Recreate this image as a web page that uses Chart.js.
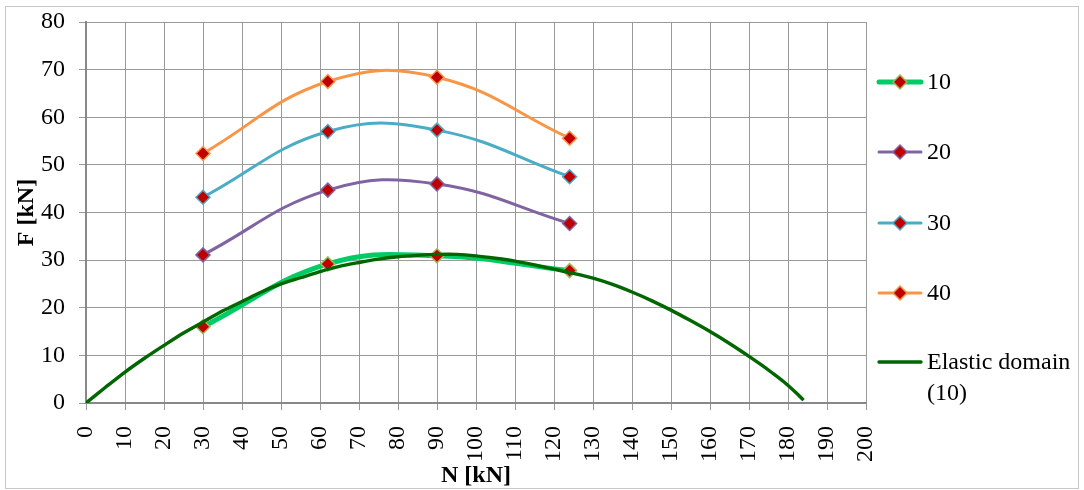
<!DOCTYPE html>
<html>
<head>
<meta charset="utf-8">
<script src="https://cdn.jsdelivr.net/npm/chart.js@4/dist/chart.umd.min.js"></script>
<style>
html,body{margin:0;padding:0;background:#fff;}
#wrap{width:1084px;height:490px;position:relative;}
</style>
</head>
<body>
<div id="wrap"><canvas id="c" width="1084" height="490"></canvas></div>
<script>
const xTicks = {min: 0, max: 200, step: 10};
const yTicks = {min: 0, max: 80, step: 10};

const seriesN = [30, 62, 90, 124];
const f10 = [16.0, 29.2, 30.9, 27.8];
const f20 = [31.1, 44.7, 46.0, 37.7];
const f30 = [43.2, 57.0, 57.3, 47.5];
const f40 = [52.4, 67.5, 68.4, 55.6];

const elasticN = [0,5,10,15,20,25,30,35,40,45,50,55,60,65,70,75,80,85,90,95,100,105,110,115,120,125,130,135,140,145,150,155,160,165,170,173,176,179,182,184];
const elasticF = [0,3.3,6.5,9.4,12.1,14.7,17.0,19.3,21.3,23.3,25.0,26.3,27.6,28.7,29.5,30.2,30.7,31.0,31.2,31.2,30.9,30.4,29.8,29.0,28.1,27.2,26.2,24.9,23.3,21.5,19.5,17.3,15.0,12.5,9.8,8.1,6.3,4.4,2.2,0.6];

const seriesLabels = ['10', '20', '30', '40', ['Elastic domain', '(10)']];
const xTitle = 'N [kN]';
const yTitle = 'F [kN]';

function pts(xs, ys){ return xs.map((x,i)=>({x:x, y:ys[i]})); }

const FONT = "'Liberation Serif', 'Times New Roman', serif";

const mk = (label, data, color, width, marker) => ({
  label, data,
  borderColor: color,
  backgroundColor: color,
  borderWidth: width,
  tension: marker ? 0.42 : 0.3,
  pointStyle: marker ? 'rectRot' : false,
  pointRadius: marker ? 7 : 0,
  pointHoverRadius: marker ? 7 : 0,
  pointBackgroundColor: '#C00000',
  pointBorderColor: marker ? (marker === true ? color : marker) : color,
  pointBorderWidth: 1.5,
  fill: false
});

const datasets = [
  mk(seriesLabels[4], pts(elasticN, elasticF), '#006600', 3.4, false),
  mk(seriesLabels[0], pts(seriesN, f10), '#00CC66', 5, '#9BBB59'),
  mk(seriesLabels[1], pts(seriesN, f20), '#8064A2', 3, true),
  mk(seriesLabels[2], pts(seriesN, f30), '#4BACC6', 3, true),
  mk(seriesLabels[3], pts(seriesN, f40), '#F79646', 3, true)
];
datasets[0].order = 1;
datasets[1].order = 2;
datasets[2].order = 0; datasets[3].order = 0; datasets[4].order = 0;

const legendOrder = [1,2,3,4,0];
const legendYs = [82, 152, 223, 293, 362];

const framePlugin = {
  id: 'frame',
  beforeDraw(chart){
    const ctx = chart.ctx;
    ctx.save();
    ctx.fillStyle = '#fff';
    ctx.fillRect(0,0,chart.width,chart.height);
    ctx.strokeStyle = '#c8c8c8';
    ctx.lineWidth = 1;
    ctx.strokeRect(5.5, 6.5, 1073, 482);
    ctx.restore();
  }
};

const legendPlugin = {
  id: 'customLegend',
  afterDraw(chart){
    const ctx = chart.ctx;
    ctx.save();
    legendOrder.forEach((di, k) => {
      const ds = chart.data.datasets[di];
      const y = legendYs[k];
      ctx.strokeStyle = ds.borderColor;
      ctx.lineWidth = ds.borderWidth;
      ctx.lineCap = 'round';
      ctx.beginPath();
      ctx.moveTo(879, y);
      ctx.lineTo(921, y);
      ctx.stroke();
      if (ds.pointStyle) {
        ctx.fillStyle = ds.pointBackgroundColor;
        ctx.strokeStyle = ds.pointBorderColor;
        ctx.lineWidth = 1.5;
        ctx.beginPath();
        ctx.moveTo(900, y-7); ctx.lineTo(907, y); ctx.lineTo(900, y+7); ctx.lineTo(893, y); ctx.closePath();
        ctx.fill(); ctx.stroke();
      }
      ctx.fillStyle = '#000';
      ctx.font = '24px ' + FONT;
      ctx.textBaseline = 'middle';
      ctx.textAlign = 'left';
      const lines = Array.isArray(ds.label) ? ds.label : [ds.label];
      lines.forEach((t, j) => ctx.fillText(t, 927, y + 1 + j*31));
    });
    ctx.restore();
  }
};

new Chart(document.getElementById('c'), {
  type: 'line',
  data: { datasets },
  plugins: [framePlugin, legendPlugin],
  options: {
    responsive: false,
    animation: false,
    events: [],
    layout: { padding: { left: 0, right: 218, top: 22, bottom: 0 } },
    plugins: { legend: { display: false }, tooltip: { enabled: false } },
    scales: {
      x: {
        type: 'linear',
        min: xTicks.min, max: xTicks.max,
        ticks: {
          stepSize: xTicks.step, autoSkip: false,
          minRotation: 90, maxRotation: 90,
          color: '#000', font: { family: FONT, size: 24 }, padding: 16
        },
        grid: { color: '#9a9a9a', lineWidth: 1, tickLength: 7, tickColor: '#9a9a9a' },
        border: { color: '#888', width: 2 },
        title: { display: true, text: xTitle, color: '#000', font: { family: FONT, size: 24, weight: 'bold' }, padding: { top: 0, bottom: 0 } },
        afterFit(s){ s.height = 87; s.paddingLeft = 0; s.paddingRight = 0; }
      },
      y: {
        type: 'linear',
        min: yTicks.min, max: yTicks.max,
        ticks: {
          stepSize: yTicks.step,
          color: '#000', font: { family: FONT, size: 24 }, padding: 14
        },
        grid: { color: '#9a9a9a', lineWidth: 1, tickLength: 7, tickColor: '#9a9a9a' },
        border: { color: '#888', width: 2 },
        title: { display: true, text: yTitle, color: '#000', font: { family: FONT, size: 24, weight: 'bold' }, padding: { top: 12, bottom: 0 } },
        afterFit(s){ s.width = 86; s.paddingTop = 0; s.paddingBottom = 0; }
      }
    }
  }
});
</script>
</body>
</html>
